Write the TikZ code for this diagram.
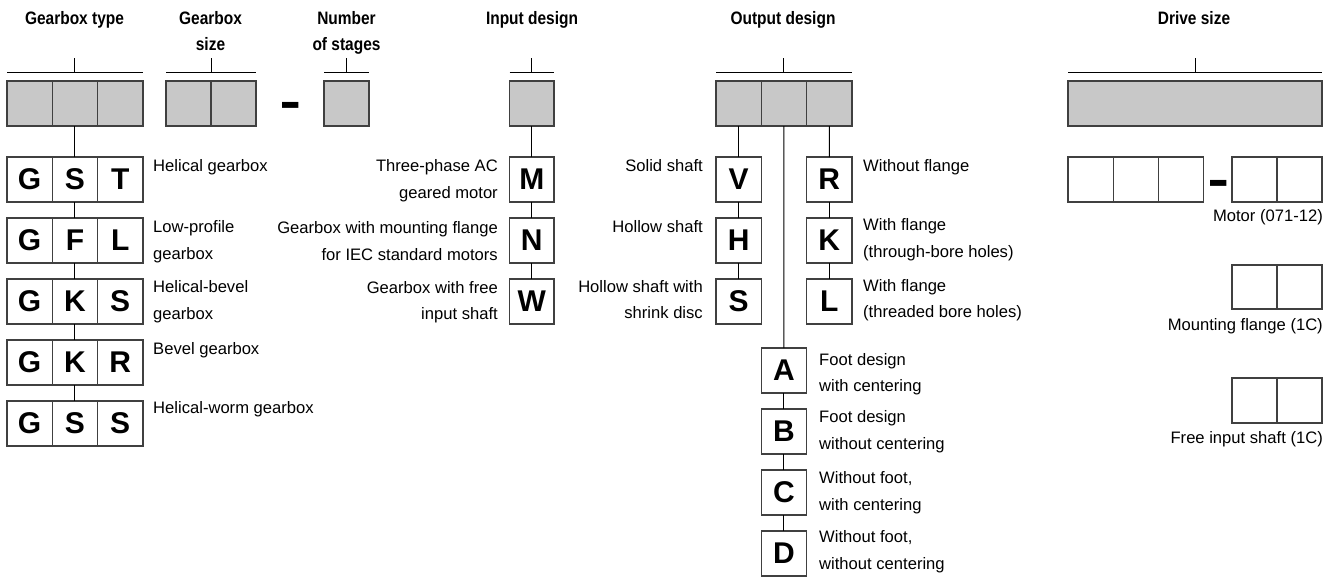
\documentclass[tikz,border=0pt]{standalone}
\usepackage{fontspec}
\setmainfont{Liberation Sans}
\newfontfamily\titlefam{Liberation Sans}[FakeStretch=0.86]
\newfontfamily\dashfam{Liberation Sans}[FakeStretch=0.55]
\definecolor{boxgray}{HTML}{C8C8C8}
\definecolor{edge}{HTML}{404040}
\tikzset{
  cell/.style={draw=edge, line width=1.3pt, minimum width=45.3pt, minimum height=45pt,
    inner sep=0pt, outer sep=0pt, anchor=north west, font=\bfseries\fontsize{30}{30}\selectfont},
  gcell/.style={cell, fill=boxgray},
  lbl/.style={inner sep=0pt, font=\fontsize{16.6}{26.5}\selectfont},
  ttl/.style={inner sep=0pt, anchor=north, align=center, font=\titlefam\bfseries\fontsize{18}{26}\selectfont},
  bracket/.style={line width=1pt, black},
  conn/.style={line width=1pt, black},
  dashmark/.style={inner sep=0pt, anchor=base, font=\dashfam\bfseries\fontsize{60}{60}\selectfont}
}
\begin{document}
\begin{tikzpicture}[x=1pt, y=-1pt]
\useasboundingbox (0,0) rectangle (1333,578);

% ---------- titles
\node[ttl] (t1) at (74.5,6.1) {\strut Gearbox type};
\node[ttl] (t2) at (210.5,6.1) {\strut Gearbox\\size};
\node[ttl] (t3) at (346.5,6.1) {\strut Number\\of stages};
\node[ttl] (t4) at (532,6.1) {\strut Input design};
\node[ttl] (t5) at (783,6.1) {\strut Output design};
\node[ttl] (t6) at (1194,6.1) {\strut Drive size};

% ---------- gray code boxes
\node[gcell] (g1) at (7,81) {};
\node[gcell] (g2) at (g1.north east) {};
\node[gcell] (g3) at (g2.north east) {};
\node[gcell, minimum width=45pt] (s1) at (166,81) {};
\node[gcell, minimum width=45pt] (s2) at (s1.north east) {};
\node[dashmark] (d1) at (290.8,121.4) {–};
\node[gcell, minimum width=45pt] (n1) at (324,81) {};
\node[gcell, minimum width=44.5pt] (i1) at (509.5,81) {};
\node[gcell] (o1) at (716,81) {};
\node[gcell] (o2) at (o1.north east) {};
\node[gcell] (o3) at (o2.north east) {};
\node[gcell, minimum width=254pt] (dr) at (1068,81) {};

% ---------- brackets
\draw[bracket] ([yshift=8pt]g1.north west) -- ([yshift=8pt]g3.north east);
\draw[bracket] ([yshift=8pt]g2.north) -- ([yshift=23pt]g2.north);
\draw[bracket] ([yshift=8pt]s1.north west) -- ([yshift=8pt]s2.north east);
\draw[bracket] ([yshift=8pt]s1.north east) -- ([yshift=23pt]s1.north east);
\draw[bracket] ([yshift=8pt]n1.north west) -- ([yshift=8pt]n1.north east);
\draw[bracket] ([yshift=8pt]n1.north) -- ([yshift=23pt]n1.north);
\draw[bracket] ([yshift=8pt]i1.north west) -- ([yshift=8pt]i1.north east);
\draw[bracket] ([yshift=8pt]i1.north) -- ([yshift=23pt]i1.north);
\draw[bracket] ([yshift=8pt]o1.north west) -- ([yshift=8pt]o3.north east);
\draw[bracket] ([yshift=8pt]o2.north) -- ([yshift=23pt]o2.north);
\draw[bracket] ([yshift=8pt]dr.north west) -- ([yshift=8pt]dr.north east);
\draw[bracket] ([yshift=8pt]dr.north) -- ([yshift=23pt]dr.north);

% ---------- gearbox type rows
\node[cell] (a1) at (7,157) {G};
\node[cell] (a2) at (a1.north east) {S};
\node[cell] (a3) at (a2.north east) {T};
\node[cell] (b1) at (7,218) {G};
\node[cell] (b2) at (b1.north east) {F};
\node[cell] (b3) at (b2.north east) {L};
\node[cell] (c1) at (7,279) {G};
\node[cell] (c2) at (c1.north east) {K};
\node[cell] (c3) at (c2.north east) {S};
\node[cell] (e1) at (7,340) {G};
\node[cell] (e2) at (e1.north east) {K};
\node[cell] (e3) at (e2.north east) {R};
\node[cell] (f1) at (7,401) {G};
\node[cell] (f2) at (f1.north east) {S};
\node[cell] (f3) at (f2.north east) {S};
\draw[conn] (g2.south) -- (a2.north);
\draw[conn] (a2.south) -- (b2.north);
\draw[conn] (b2.south) -- (c2.north);
\draw[conn] (c2.south) -- (e2.north);
\draw[conn] (e2.south) -- (f2.north);

\node[lbl, anchor=north west, align=left] (la) at (153,{171-18.55}) {\strut Helical gearbox};
\node[lbl, anchor=north west, align=left] (lb) at (153,{232.7-18.55}) {\strut Low-profile\\gearbox};
\node[lbl, anchor=north west, align=left] (lc) at (153,{292.7-18.55}) {\strut Helical-bevel\\gearbox};
\node[lbl, anchor=north west, align=left] (le) at (153,{354-18.55}) {\strut Bevel gearbox};
\node[lbl, anchor=north west, align=left] (lf) at (153,{413-18.55}) {\strut Helical-worm gearbox};

% ---------- input design
\node[cell, minimum width=44.5pt] (M) at (509.5,157) {M};
\node[cell, minimum width=44.5pt] (N) at (509.5,218) {N};
\node[cell, minimum width=44.5pt] (W) at (509.5,279) {W};
\draw[conn] (i1.south) -- (M.north);
\draw[conn] (M.south) -- (N.north);
\draw[conn] (N.south) -- (W.north);
\node[lbl, anchor=north east, align=right] (lM) at (498,{171.7-18.55}) {\strut Three-phase AC\\geared motor};
\node[lbl, anchor=north east, align=right] (lN) at (498,{233.5-18.55}) {\strut Gearbox with mounting flange\\for IEC standard motors};
\node[lbl, anchor=north east, align=right] (lW) at (498,{293-18.55}) {\strut Gearbox with free\\input shaft};

% ---------- output design
\node[cell] (V) at (716,157) {V};
\node[cell] (H) at (716,218) {H};
\node[cell] (S) at (716,279) {S};
\node[cell] (R) at (806.6,157) {R};
\node[cell] (K) at (806.6,218) {K};
\node[cell] (L) at (806.6,279) {L};
\node[cell] (A) at (761.3,348) {A};
\node[cell] (B) at (761.3,409) {B};
\node[cell] (C) at (761.3,470) {C};
\node[cell] (D) at (761.3,531) {D};
\draw[conn] (o1.south) -- (V.north);
\draw[conn] (V.south) -- (H.north);
\draw[conn] (H.south) -- (S.north);
\draw[conn] (o3.south) -- (R.north);
\draw[conn] (R.south) -- (K.north);
\draw[conn] (K.south) -- (L.north);
\draw[conn] (o2.south) -- (A.north);
\draw[conn] (A.south) -- (B.north);
\draw[conn] (B.south) -- (C.north);
\draw[conn] (C.south) -- (D.north);

\node[lbl, anchor=north east, align=right] (lV) at (703,{171-18.55}) {\strut Solid shaft};
\node[lbl, anchor=north east, align=right] (lH) at (703,{232.7-18.55}) {\strut Hollow shaft};
\node[lbl, anchor=north east, align=right] (lS) at (703,{292-18.55}) {\strut Hollow shaft with\\shrink disc};
\node[lbl, anchor=north west, align=left] (lR) at (863,{171-18.55}) {\strut Without flange};
\node[lbl, anchor=north west, align=left] (lK) at (863,{230.5-18.55}) {\strut With flange\\(through-bore holes)};
\node[lbl, anchor=north west, align=left] (lL) at (863,{291-18.55}) {\strut With flange\\(threaded bore holes)};
\node[lbl, anchor=north west, align=left] (lA) at (819,{365-18.55}) {\strut Foot design\\with centering};
\node[lbl, anchor=north west, align=left] (lB) at (819,{422.7-18.55}) {\strut Foot design\\without centering};
\node[lbl, anchor=north west, align=left] (lC) at (819,{483.3-18.55}) {\strut Without foot,\\with centering};
\node[lbl, anchor=north west, align=left] (lD) at (819,{542.7-18.55}) {\strut Without foot,\\without centering};

% ---------- drive size
\node[cell, minimum width=45.2pt] (m1) at (1068,157) {};
\node[cell, minimum width=45.2pt] (m2) at (m1.north east) {};
\node[cell, minimum width=45.2pt] (m3) at (m2.north east) {};
\node[dashmark] (d2) at (1218.4,199.4) {–};
\node[cell, minimum width=45pt] (m4) at (1232,157) {};
\node[cell, minimum width=45pt] (m5) at (m4.north east) {};
\node[lbl, anchor=base east] (lm) at (1323,221.7) {Motor (071-12)};
\node[cell, minimum width=45pt, minimum height=44pt] (f4) at (1232,265) {};
\node[cell, minimum width=45pt, minimum height=44pt] (f5) at (f4.north east) {};
\node[lbl, anchor=base east] (lfl) at (1323,330) {Mounting flange (1C)};
\node[cell, minimum width=45pt] (w4) at (1232,378) {};
\node[cell, minimum width=45pt] (w5) at (w4.north east) {};
\node[lbl, anchor=base east] (lw) at (1323,443) {Free input shaft (1C)};
\end{tikzpicture}
\end{document}
